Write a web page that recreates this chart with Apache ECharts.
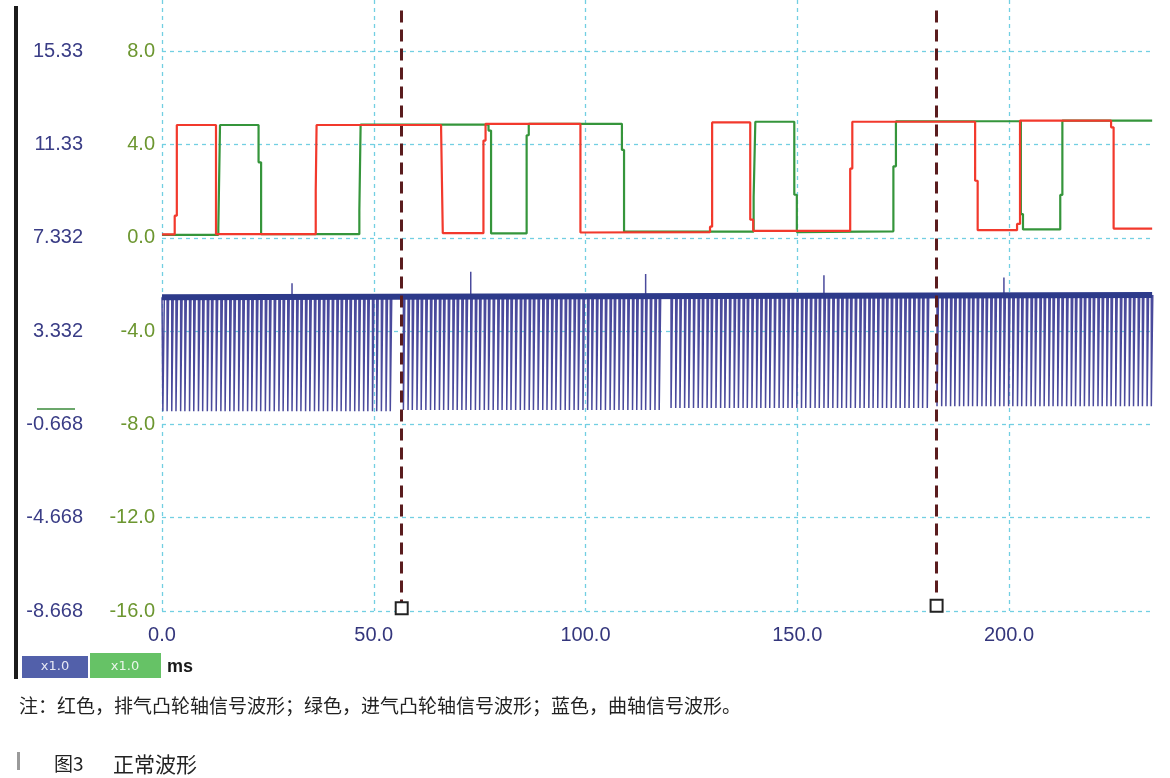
<!DOCTYPE html>
<html>
<head>
<meta charset="utf-8">
<script src="https://cdn.jsdelivr.net/npm/echarts@6/dist/echarts.min.js"></script>
<style>
html,body{margin:0;padding:0;background:#fff;}
#chart{width:1170px;height:778px;}
</style>
</head>
<body>
<div id="chart"></div>
<script>
// ---------- axis / tick data ----------
const xMin = 0, xMax = 234, xStep = 50;
const yMin = -16, yMax = 10.2, yStep = 4;
const xTickLabels = ['0.0', '50.0', '100.0', '150.0', '200.0'];
const yTickLabels = ['-16.0', '-12.0', '-8.0', '-4.0', '0.0', '4.0', '8.0'];
const yTickLabelsLeft = ['-8.668', '-4.668', '-0.668', '3.332', '7.332', '11.33', '15.33'];

// ---------- exhaust camshaft (red), [ms, V] ----------
const exhaustCam = [
  [0, 0.15], [3.0, 0.15], [3.0, 0.95], [3.5, 0.95], [3.5, 4.84], [12.75, 4.84], [12.75, 0.16],
  [36.3, 0.16], [36.3, 2.0], [36.5, 2.0], [36.5, 4.84], [65.9, 4.84], [65.9, 4.68], [66.3, 4.68], [66.3, 0.2],
  [75.9, 0.2], [75.9, 4.17], [76.4, 4.17], [76.4, 4.89], [98.8, 4.89], [98.8, 0.23],
  [129.4, 0.25], [129.4, 0.48], [129.9, 0.48], [129.9, 4.95], [138.9, 4.95], [138.9, 0.78], [139.6, 0.78], [139.6, 0.3],
  [162.5, 0.3], [162.5, 2.97], [163.0, 2.97], [163.0, 4.98], [192.0, 4.98], [192.0, 2.45], [192.6, 2.45], [192.6, 0.33],
  [201.9, 0.33], [201.9, 0.6], [202.6, 0.6], [202.6, 5.03], [224.1, 5.03], [224.1, 4.74], [224.7, 4.74], [224.7, 0.4],
  [233.8, 0.4]
];

// ---------- intake camshaft (green), [ms, V] ----------
const intakeCam = [
  [0, 0.13], [13.3, 0.13], [13.3, 0.4], [13.7, 0.4], [13.7, 4.84], [22.8, 4.84], [22.8, 3.24], [23.4, 3.24], [23.4, 0.16],
  [46.6, 0.16], [46.6, 1.16], [46.9, 1.16], [46.9, 4.86], [77.1, 4.86], [77.1, 4.6], [77.7, 4.6], [77.7, 0.19],
  [86.1, 0.19], [86.1, 4.4], [86.6, 4.4], [86.6, 4.89], [108.6, 4.89], [108.6, 3.77], [109.1, 3.77], [109.1, 0.27],
  [139.7, 0.27], [139.7, 1.74], [140.1, 1.74], [140.1, 4.98], [149.3, 4.98], [149.3, 1.85], [149.9, 1.85], [149.9, 0.25],
  [172.7, 0.28], [172.7, 3.07], [173.3, 3.07], [173.3, 5.0], [202.8, 5.0], [202.8, 1.02], [203.3, 1.02], [203.3, 0.36],
  [212.1, 0.36], [212.1, 1.84], [212.6, 1.84], [212.6, 5.03], [233.8, 5.03]
];

// ---------- crankshaft (blue): tooth edge times per revolution, ms ----------
const crankTeethRev1 = [0.2,1.2,2.3,3.3,4.4,5.4,6.5,7.5,8.6,9.6,10.7,11.7,12.8,13.9,14.9,16.0,17.0,18.1,19.1,20.2,
  21.2,22.3,23.3,24.4,25.4,26.5,27.6,28.6,29.7,30.7,31.8,32.8,33.9,34.9,36.0,37.0,38.1,39.1,40.2,41.3,
  42.3,43.4,44.4,45.5,46.5,47.6,48.6,49.7,50.7,51.8,52.9,53.9];
const crankTeethRev2 = [57.0,58.1,59.1,60.2,61.2,62.3,63.4,64.4,65.5,66.5,67.6,68.7,69.7,70.8,71.8,72.9,74.0,75.0,76.1,77.1,
  78.2,79.3,80.3,81.4,82.4,83.5,84.6,85.6,86.7,87.7,88.8,89.9,90.9,92.0,93.0,94.1,95.2,96.2,97.3,98.3,
  99.4,100.5,101.5,102.6,103.6,104.7,105.8,106.8,107.9,108.9,110.0,111.1,112.1,113.2,114.2,115.3,116.4,117.4];
const crankTeethRev3 = [120.2,121.3,122.3,123.4,124.4,125.5,126.6,127.6,128.7,129.7,130.8,131.9,132.9,134.0,135.1,136.1,137.2,138.2,139.3,140.4,
  141.4,142.5,143.5,144.6,145.7,146.7,147.8,148.8,149.9,151.0,152.0,153.1,154.2,155.2,156.3,157.3,158.4,159.5,160.5,161.6,
  162.6,163.7,164.8,165.8,166.9,167.9,169.0,170.1,171.1,172.2,173.3,174.3,175.4,176.4,177.5,178.6,179.6,180.7];
const crankTeethRev4 = [183.0,184.1,185.1,186.2,187.2,188.3,189.3,190.4,191.4,192.5,193.6,194.6,195.7,196.7,197.8,198.8,199.9,200.9,202.0,203.0,
  204.1,205.2,206.2,207.3,208.3,209.4,210.4,211.5,212.5,213.6,214.7,215.7,216.8,217.8,218.9,219.9,221.0,222.0,223.1,224.1,
  225.2,226.3,227.3,228.4,229.4,230.5,231.5,232.6,233.6];
const crankHighLevels = [-2.55, -2.52, -2.48, -2.45];
const crankLowLevels = [-7.43, -7.38, -7.3, -7.22];
const crankToothLowTime = 0.35;
const crankSpikeTimes = [30.7, 72.9, 114.2, 156.3, 198.8];
const crankSpikeTops = [-1.95, -1.45, -1.55, -1.6, -1.7];
const crankEnd = 233.8;

// ---------- cursors ----------
const cursorTimes = [56.6, 182.9];
const cursorTop = 9.75;
const cursorBottom = [-15.88, -15.78];

// ---------- build crank trace from the arrays ----------
const crankRevs = [crankTeethRev1, crankTeethRev2, crankTeethRev3, crankTeethRev4];
const crankData = [[0, crankHighLevels[0]]];
crankRevs.forEach((teeth, r) => {
  const hi = crankHighLevels[r], lo = crankLowLevels[r];
  teeth.forEach(t => {
    crankData.push([t, hi]);
    crankSpikeTimes.forEach((s, i) => {
      if (Math.abs(s - t) < 0.01) { crankData.push([t, crankSpikeTops[i]]); crankData.push([t, hi]); }
    });
    crankData.push([t, lo]);
    crankData.push([t + crankToothLowTime, lo]);
    crankData.push([t + crankToothLowTime, hi]);
  });
});
crankData.push([crankEnd, crankHighLevels[3]]);
const crankHighTrace = [[0, crankHighLevels[0]], [crankEnd, crankHighLevels[3]]];

const gridLine = { color: '#72cfe2', type: [4, 4], width: 1.3 };
const labelFont = 'Liberation Sans';

const chart = echarts.init(document.getElementById('chart'), null, { renderer: 'canvas' });
chart.setOption({
  animation: false,
  backgroundColor: '#ffffff',
  grid: { left: 162, right: 17, top: 0, bottom: 167, containLabel: false },
  xAxis: {
    type: 'value', min: xMin, max: xMax, interval: xStep,
    axisLine: { show: false }, axisTick: { show: false },
    splitLine: { show: true, showMinLine: true, showMaxLine: false, lineStyle: gridLine },
    axisLabel: {
      margin: 14, color: '#34367c', fontSize: 20, fontFamily: labelFont, showMaxLabel: false,
      formatter: v => { const i = Math.round((v - xMin) / xStep); return Math.abs(v - xMin - i * xStep) < 1e-6 ? (xTickLabels[i] || '') : ''; }
    }
  },
  yAxis: [
    {
      type: 'value', position: 'left', min: yMin, max: yMax, interval: yStep,
      axisLine: { show: false }, axisTick: { show: false },
      splitLine: { show: true, showMinLine: true, showMaxLine: false, lineStyle: gridLine },
      axisLabel: {
        margin: 7, color: '#6c9630', fontSize: 20, fontFamily: labelFont, showMaxLabel: false,
        formatter: v => { const i = Math.round((v - yMin) / yStep); return Math.abs(v - yMin - i * yStep) < 1e-6 ? (yTickLabels[i] || '') : ''; }
      }
    },
    {
      type: 'value', position: 'left', offset: 0, min: yMin, max: yMax, interval: yStep,
      axisLine: { show: false }, axisTick: { show: false }, splitLine: { show: false },
      axisLabel: {
        margin: 79, color: '#3a3d86', fontSize: 20, fontFamily: labelFont, showMaxLabel: false,
        formatter: v => { const i = Math.round((v - yMin) / yStep); return Math.abs(v - yMin - i * yStep) < 1e-6 ? (yTickLabelsLeft[i] || '') : ''; }
      }
    }
  ],
  series: [
    {
      name: '曲轴信号', type: 'line', data: crankData, showSymbol: false, symbol: 'none',
      lineStyle: { color: '#4a4a9c', width: 1.5 }, z: 2, silent: true
    },
    {
      name: '曲轴信号高电平', type: 'line', data: crankHighTrace, showSymbol: false, symbol: 'none',
      lineStyle: { color: '#2d3a8a', width: 6 }, z: 3, silent: true
    },
    {
      name: '进气凸轮轴信号', type: 'line', data: intakeCam, showSymbol: false, symbol: 'none',
      lineStyle: { color: '#35953b', width: 2.2 }, z: 4, silent: true
    },
    {
      name: '排气凸轮轴信号', type: 'line', data: exhaustCam, showSymbol: false, symbol: 'none',
      lineStyle: { color: '#f2392c', width: 2.2 }, z: 5, silent: true
    },
    {
      name: '光标', type: 'line', data: [], z: 10, silent: true,
      markLine: {
        symbol: ['none', 'none'], silent: true, animation: false, label: { show: false },
        lineStyle: { color: '#5a1c1e', width: 3, type: [12, 7] },
        data: cursorTimes.map((t, i) => [{ coord: [t, cursorTop] }, { coord: [t, cursorBottom[i]] }])
      },
      markPoint: {
        symbol: 'rect', symbolSize: 12, silent: true, animation: false, label: { show: false },
        itemStyle: { color: '#ffffff', borderColor: '#222222', borderWidth: 2 },
        data: cursorTimes.map((t, i) => ({ coord: [t, cursorBottom[i]] }))
      }
    }
  ],
  graphic: [
    { type: 'line', shape: { x1: 16, y1: 6, x2: 16, y2: 679 }, style: { stroke: '#1c1c1c', lineWidth: 4 }, z: 20 },
    { type: 'line', shape: { x1: 37, y1: 409, x2: 75, y2: 409 }, style: { stroke: '#3a8a3a', lineWidth: 1.5 }, z: 20 },
    { type: 'rect', shape: { x: 22, y: 656, width: 66, height: 22 }, style: { fill: '#5260aa' }, z: 20 },
    { type: 'text', x: 55, y: 667, style: { text: 'x1.0', fill: '#e6e8f4', font: '13px "DejaVu Sans"', textAlign: 'center', textVerticalAlign: 'middle' }, z: 21 },
    { type: 'rect', shape: { x: 90, y: 653, width: 71, height: 25 }, style: { fill: '#66c266' }, z: 20 },
    { type: 'text', x: 125, y: 667, style: { text: 'x1.0', fill: '#eaf6ea', font: '13px "DejaVu Sans"', textAlign: 'center', textVerticalAlign: 'middle' }, z: 21 },
    { type: 'text', x: 167, y: 667, style: { text: 'ms', fill: '#1a1a1a', font: 'bold 18px "Liberation Sans"', textAlign: 'left', textVerticalAlign: 'middle' }, z: 21 },
    { type: 'text', x: 19, y: 706, style: { text: '注：红色，排气凸轮轴信号波形；绿色，进气凸轮轴信号波形；蓝色，曲轴信号波形。', fill: '#222222', font: '19px "Noto Sans CJK SC"', textAlign: 'left', textVerticalAlign: 'middle' }, z: 21 },
    { type: 'rect', shape: { x: 17, y: 752, width: 3, height: 18 }, style: { fill: '#9a9a9a' }, z: 20 },
    { type: 'text', x: 54, y: 764, style: { text: '图3', fill: '#222222', font: '19px "Noto Sans CJK SC"', textAlign: 'left', textVerticalAlign: 'middle' }, z: 21 },
    { type: 'text', x: 113, y: 764, style: { text: '正常波形', fill: '#222222', font: '21px "Noto Sans CJK SC"', textAlign: 'left', textVerticalAlign: 'middle' }, z: 21 }
  ]
});
</script>
</body>
</html>
